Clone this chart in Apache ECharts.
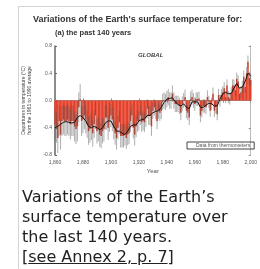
<!DOCTYPE html>
<html>
<head>
<meta charset="utf-8">
<script src="https://cdn.jsdelivr.net/npm/echarts@6/dist/echarts.min.js"></script>
<style>
  body { margin: 0; background: #fff; }
  #frame {
    position: absolute; left: 18px; top: 6px; right: 0; bottom: 0;
    border-top: 1px solid #d4d4d4; border-left: 1px solid #d4d4d4;
  }
  #chart_box { position: absolute; left: 0; top: 0; width: 260px; height: 269px; }
  #caption {
    position: absolute; left: 22px; top: 187px; white-space: nowrap;
    font-family: "DejaVu Sans", Verdana, sans-serif; font-size: 16px;
    line-height: 20px; color: #222;
  }
  #caption a { color: #222; text-decoration: underline; }
</style>
</head>
<body>
<div id="frame"></div>
<div id="chart_box"></div>
<div id="caption">Variations of the Earth’s<br>surface temperature over<br>the last 140 years.<br>[<a href="#">see Annex 2, p. 7</a>]</div>
<script>
// annual anomalies (°C, vs 1961-1990), 1860..2000
const years = [];
for (let y = 1860; y <= 2000; y++) years.push(y);
const anomalies = [
  -0.35, -0.40, -0.55, -0.30, -0.50, -0.30, -0.28, -0.30, -0.30, -0.28,
  -0.30, -0.35, -0.30, -0.30, -0.38, -0.42, -0.38, -0.10, 0.02, -0.30,
  -0.28, -0.22, -0.28, -0.35, -0.45, -0.42, -0.38, -0.48, -0.35, -0.22,
  -0.45, -0.42, -0.50, -0.52, -0.45, -0.42, -0.25, -0.25, -0.40, -0.28,
  -0.22, -0.28, -0.40, -0.48, -0.55, -0.40, -0.32, -0.52, -0.52, -0.52,
  -0.50, -0.55, -0.50, -0.48, -0.30, -0.22, -0.40, -0.50, -0.38, -0.30,
  -0.30, -0.22, -0.32, -0.30, -0.32, -0.25, -0.12, -0.22, -0.22, -0.38,
  -0.15, -0.10, -0.15, -0.30, -0.15, -0.18, -0.15, -0.02, 0.00, -0.02,
  0.02, 0.05, 0.00, 0.00, 0.10, 0.00, -0.05, -0.05, -0.05, -0.08,
  -0.18, -0.05, 0.00, 0.05, -0.15, -0.18, -0.25, 0.02, 0.05, 0.00,
  -0.05, 0.02, 0.02, 0.03, -0.22, -0.15, -0.08, -0.08, -0.10, 0.05,
  -0.02, -0.15, -0.05, 0.10, -0.15, -0.10, -0.20, 0.08, 0.00, 0.08,
  0.12, 0.18, 0.05, 0.22, 0.05, 0.03, 0.10, 0.22, 0.22, 0.15,
  0.32, 0.28, 0.10, 0.12, 0.20, 0.35, 0.20, 0.40, 0.57, 0.33,
  0.30
];
// two-sigma half width for each decade 1860s..2000
const decadeError = [0.22, 0.22, 0.20, 0.18, 0.17, 0.16, 0.14, 0.12, 0.12, 0.11, 0.10, 0.09, 0.09, 0.09, 0.09];
// smoothed curve, every two years
const smoothYears = [];
for (let y = 1860; y <= 2000; y += 2) smoothYears.push(y);
const smoothed = [
  -0.40, -0.38, -0.35, -0.32, -0.31, -0.32, -0.33, -0.32, -0.25, -0.22,
  -0.25, -0.30, -0.38, -0.40, -0.38, -0.40, -0.43, -0.40, -0.33, -0.30,
  -0.30, -0.38, -0.45, -0.45, -0.48, -0.50, -0.45, -0.38, -0.36, -0.36,
  -0.30, -0.28, -0.27, -0.22, -0.22, -0.18, -0.16, -0.15, -0.10, -0.03,
  0.02, 0.03, 0.04, -0.02, -0.06, -0.08, -0.05, -0.10, -0.12, -0.02,
  -0.02, -0.02, -0.10, -0.10, -0.07, -0.04, -0.05, -0.08, -0.08, 0.02,
  0.10, 0.12, 0.10, 0.10, 0.18, 0.25, 0.18, 0.20, 0.28, 0.40,
  0.36
];
const yTicks = [-0.8, -0.4, 0.0, 0.4, 0.8];

const barData = years.map((y, i) => [y, anomalies[i]]);
const errData = years.map((y, i) => {
  const e = decadeError[Math.floor((y - 1860) / 10)];
  return [y, anomalies[i] - e, anomalies[i] + e];
});
const lineData = smoothYears.map((y, i) => [y, smoothed[i]]);

const myChart = echarts.init(document.getElementById("chart_box"));
const axisFont = { fontSize: 5, color: "#555", fontFamily: "Liberation Sans" };
const option = {
  animation: false,
  title: [
    {
      text: "Variations of the Earth's surface temperature for:",
      left: 33, top: 15, padding: 0,
      textStyle: { fontSize: 9, fontWeight: "bold", color: "#333", fontFamily: "Liberation Sans" }
    },
    {
      text: "(a) the past 140 years",
      left: 55, top: 29, padding: 0,
      textStyle: { fontSize: 7.5, fontWeight: "bold", color: "#333", fontFamily: "Liberation Sans" }
    }
  ],
  legend: {
    data: ["Data from thermometers"],
    left: 187, top: 142,
    itemWidth: 0, itemHeight: 0, itemGap: 0,
    padding: [1, 4],
    borderColor: "#444", borderWidth: 1,
    textStyle: { fontSize: 5, color: "#555", fontFamily: "Liberation Sans" }
  },
  grid: { left: 55, top: 46, right: 4, bottom: 114 },
  xAxis: [
    {
      type: "value", min: 1860, max: 2000, interval: 20,
      name: "Year", nameLocation: "middle", nameGap: 13,
      nameTextStyle: { fontSize: 6, color: "#555", fontFamily: "Liberation Sans" },
      axisLine: { lineStyle: { color: "#888" } },
      axisTick: { inside: true, length: 2, lineStyle: { color: "#888" } },
      axisLabel: Object.assign({ margin: 5 }, axisFont),
      splitLine: { show: false }
    },
    {
      type: "value", min: 1860, max: 2000, interval: 20, position: "top",
      axisLine: { lineStyle: { color: "#999" } },
      axisTick: { inside: true, length: 2, lineStyle: { color: "#888" } },
      axisLabel: { show: false }, splitLine: { show: false }
    }
  ],
  yAxis: [
    {
      type: "value", min: -0.8, max: 0.8, interval: 0.4,
      name: "Departures in temperature (°C)\nfrom the 1961 to 1990 average",
      nameLocation: "middle", nameGap: 19, nameRotate: 90,
      nameTextStyle: { fontSize: 5, color: "#444", lineHeight: 6, fontFamily: "Liberation Sans" },
      axisLine: { show: true, lineStyle: { color: "#666", width: 1.5 } },
      axisTick: { inside: true, length: 2, lineStyle: { color: "#666" } },
      axisLabel: Object.assign({ margin: 3, formatter: v => yTicks.indexOf(v) >= 0 ? v.toFixed(1) : "" }, axisFont),
      splitLine: { show: false }
    },
    {
      type: "value", min: -0.8, max: 0.8, interval: 0.4, position: "right",
      axisLine: { show: true, lineStyle: { color: "#bbb" } },
      axisTick: { inside: true, length: 2, lineStyle: { color: "#888" } },
      axisLabel: { show: false }, splitLine: { show: false }
    }
  ],
  graphic: [
    {
      type: "text", left: 138, top: 52,
      style: { text: "GLOBAL", fontSize: 6, fontStyle: "italic", fontWeight: "bold", fill: "#444", fontFamily: "Liberation Sans" }
    }
  ],
  series: [
    {
      name: "Data from thermometers",
      type: "bar",
      data: barData,
      barWidth: 1.5,
      itemStyle: { color: "#e4402a" },
      silent: true
    },
    {
      name: "error",
      type: "custom",
      data: errData,
      renderItem: function (params, api) {
        const top = api.coord([api.value(0), api.value(2)]);
        const bot = api.coord([api.value(0), api.value(1)]);
        return {
          type: "line",
          shape: { x1: top[0], y1: top[1], x2: bot[0], y2: bot[1] },
          style: { stroke: "#555", lineWidth: 0.6, opacity: 0.8 }
        };
      },
      z: 3
    },
    {
      name: "smoothed",
      type: "line",
      data: lineData,
      showSymbol: false,
      lineStyle: { color: "#111", width: 1 },
      z: 4
    }
  ]
};
myChart.setOption(option);
</script>
</body>
</html>
